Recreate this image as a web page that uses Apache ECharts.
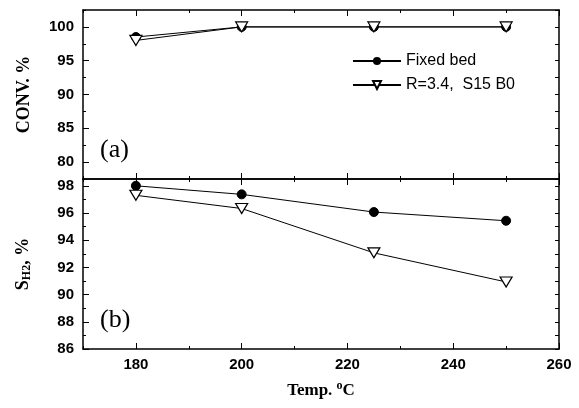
<!DOCTYPE html>
<html>
<head>
<meta charset="utf-8">
<script src="https://cdn.jsdelivr.net/npm/echarts@6/dist/echarts.min.js"></script>
<style>
html, body { margin: 0; padding: 0; background: #fff; }
#main { width: 579px; height: 408px; }
</style>
</head>
<body>
<div id="main"></div>
<script>
var temps = [180, 200, 225, 250];
var convFixed = [98.5, 100, 100, 100];
var convR34 = [98.0, 100, 100, 100];
var selFixed = [98.0, 97.37, 96.07, 95.43];
var selR34 = [97.3, 96.33, 93.07, 90.93];
var tempTicks = [180, 200, 220, 240, 260];
var tempMinor = [170, 190, 210, 230, 250];
var convTicks = [80, 85, 90, 95, 100];
var convMinor = [77.5, 82.5, 87.5, 92.5, 97.5, 102.5];
var selTicks = [86, 88, 90, 92, 94, 96, 98];
var selMinor = [87, 89, 91, 93, 95, 97];

var dom = document.getElementById('main');
var myChart = echarts.init(dom);

var lineW = 1.5;
var labelFont = { fontFamily: 'Liberation Sans', fontWeight: 'bold', fontSize: 15, color: '#000' };
var triPath = 'path://M0,0 L10,0 L5,8.66 Z';

function pairs(xs, ys) {
    return xs.map(function (x, i) { return [x, ys[i]]; });
}

// main x axis: frame line + major ticks (and labels on the lower panel)
function xAx(grid, pos, showLabel, name) {
    return {
        type: 'value', gridIndex: grid, position: pos,
        min: 170, max: 260, interval: 10,
        axisLine: { show: true, onZero: false, lineStyle: { color: '#000', width: lineW } },
        axisTick: { show: true, inside: true, length: 6, customValues: tempTicks, lineStyle: { color: '#000', width: 1 } },
        axisLabel: showLabel ? Object.assign({ margin: 8, customValues: tempTicks }, labelFont) : { show: false },
        splitLine: { show: false },
        name: name || '',
        nameLocation: 'middle',
        nameGap: 31,
        nameTextStyle: {
            fontFamily: 'Liberation Serif', fontWeight: 'bold', fontSize: 17, color: '#000',
            rich: {
                sup: { fontFamily: 'Liberation Serif', fontWeight: 'bold', fontSize: 12, color: '#000', padding: [0, 0, 10, 0] }
            }
        }
    };
}

// minor ticks only
function xMinor(grid, pos) {
    return {
        type: 'value', gridIndex: grid, position: pos,
        min: 170, max: 260, interval: 10,
        axisLine: { show: false },
        axisTick: { show: true, inside: true, length: 3, customValues: tempMinor, lineStyle: { color: '#000', width: 1 } },
        axisLabel: { show: false },
        splitLine: { show: false }
    };
}

option = {
    backgroundColor: '#fff',
    animation: false,
    grid: [
        { left: 83, right: 20, top: 10, height: 169, outerBoundsMode: 'none' },
        { left: 83, right: 20, top: 179, height: 170, outerBoundsMode: 'none' }
    ],
    legend: {
        left: 347, top: 48,
        orient: 'vertical',
        itemWidth: 48, itemHeight: 10, itemGap: 8,
        textStyle: { fontFamily: 'Liberation Sans', fontSize: 16, color: '#000' },
        data: ['Fixed bed', 'R=3.4,  S15 B0']
    },
    xAxis: [
        xAx(0, 'bottom', false),
        xAx(0, 'top', false),
        xAx(1, 'bottom', true, 'Temp. {sup|o}C'),
        xAx(1, 'top', false),
        xMinor(0, 'bottom'),
        xMinor(0, 'top'),
        xMinor(1, 'bottom'),
        xMinor(1, 'top')
    ],
    yAxis: [
        {
            type: 'value', gridIndex: 0, position: 'left', min: 77.5, max: 102.5,
            axisLine: { show: true, onZero: false, lineStyle: { color: '#000', width: lineW } },
            axisTick: { show: true, inside: true, length: 6, customValues: convTicks, lineStyle: { color: '#000' } },
            axisLabel: Object.assign({ margin: 9, customValues: convTicks }, labelFont),
            splitLine: { show: false },
            name: 'CONV. %', nameLocation: 'middle', nameGap: 50,
            nameTextStyle: { fontFamily: 'Liberation Serif', fontWeight: 'bold', fontSize: 18, color: '#000' }
        },
        {
            type: 'value', gridIndex: 0, position: 'left', min: 77.5, max: 102.5,
            axisLine: { show: false },
            axisTick: { show: true, inside: true, length: 3, customValues: convMinor, lineStyle: { color: '#000' } },
            axisLabel: { show: false }, splitLine: { show: false }
        },
        {
            type: 'value', gridIndex: 0, position: 'right', min: 77.5, max: 102.5, interval: 2.5,
            axisLine: { show: true, onZero: false, lineStyle: { color: '#000', width: lineW } },
            axisTick: { show: true, inside: true, length: 4, lineStyle: { color: '#000' } },
            axisLabel: { show: false }, splitLine: { show: false }
        },
        {
            type: 'value', gridIndex: 1, position: 'left', min: 86, max: 98.5,
            axisLine: { show: true, onZero: false, lineStyle: { color: '#000', width: lineW } },
            axisTick: { show: true, inside: true, length: 6, customValues: selTicks, lineStyle: { color: '#000' } },
            axisLabel: Object.assign({ margin: 9, customValues: selTicks }, labelFont),
            splitLine: { show: false },
            name: 'S{sub|H2}, %', nameLocation: 'middle', nameGap: 50,
            nameTextStyle: {
                fontFamily: 'Liberation Serif', fontWeight: 'bold', fontSize: 18, color: '#000',
                rich: {
                    sub: { fontFamily: 'Liberation Serif', fontWeight: 'bold', fontSize: 12, color: '#000', padding: [8, 0, 0, 0] }
                }
            }
        },
        {
            type: 'value', gridIndex: 1, position: 'left', min: 86, max: 98.5,
            axisLine: { show: false },
            axisTick: { show: true, inside: true, length: 3, customValues: selMinor, lineStyle: { color: '#000' } },
            axisLabel: { show: false }, splitLine: { show: false }
        },
        {
            type: 'value', gridIndex: 1, position: 'right', min: 86, max: 98.5, interval: 1,
            axisLine: { show: true, onZero: false, lineStyle: { color: '#000', width: lineW } },
            axisTick: { show: true, inside: true, length: 4, lineStyle: { color: '#000' } },
            axisLabel: { show: false }, splitLine: { show: false }
        }
    ],
    graphic: [
        { type: 'text', left: 100, top: 137, style: { text: '(a)', font: '26px "Liberation Serif"', fill: '#000' } },
        { type: 'text', left: 100, top: 307, style: { text: '(b)', font: '26px "Liberation Serif"', fill: '#000' } }
    ],
    series: [
        {
            name: 'Fixed bed', type: 'line', xAxisIndex: 0, yAxisIndex: 0,
            data: pairs(temps, convFixed),
            symbol: 'circle', symbolSize: 9,
            lineStyle: { color: '#000', width: 1 },
            itemStyle: { color: '#000', borderColor: '#000' }
        },
        {
            name: 'R=3.4,  S15 B0', type: 'line', xAxisIndex: 0, yAxisIndex: 0,
            data: pairs(temps, convR34),
            symbol: triPath, symbolSize: [12, 10],
            lineStyle: { color: '#000', width: 1 },
            itemStyle: { color: '#fff', borderColor: '#000', borderWidth: 1.2 }
        },
        {
            name: 'Fixed bed', type: 'line', xAxisIndex: 2, yAxisIndex: 3,
            data: pairs(temps, selFixed),
            symbol: 'circle', symbolSize: 9,
            lineStyle: { color: '#000', width: 1 },
            itemStyle: { color: '#000', borderColor: '#000' }
        },
        {
            name: 'R=3.4,  S15 B0', type: 'line', xAxisIndex: 2, yAxisIndex: 3,
            data: pairs(temps, selR34),
            symbol: triPath, symbolSize: [12, 10],
            lineStyle: { color: '#000', width: 1 },
            itemStyle: { color: '#fff', borderColor: '#000', borderWidth: 1.2 }
        }
    ]
};

if (option && typeof option === "object") {
    myChart.setOption(option, true);
}
</script>
</body>
</html>
